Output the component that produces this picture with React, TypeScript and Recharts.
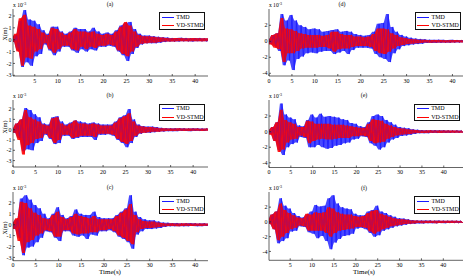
import { ComposedChart, Line, Area, XAxis, YAxis, Legend } from "recharts";

const SERIF = '"Liberation Serif", "Times New Roman", serif';
const BLUE = "#1a1aff";
const RED = "#ff0000";

// peak displacements (x1e-3 m), one every 0.5 s starting at t = 0
const dt = 0.5;

const tmdA = [
  0.1, -0.2, 0.4, -0.9, 1.6, -2.3, 2.5, -1.9, 1.7, -2.2,
  1.6, -1.4, 1.3, -1.2, 0.8, -0.4, 0.5, -0.9, 1.1, -1.3,
  1.1, -1.0, 0.7, -0.6, 0.5, -0.6, 0.7, -0.9, 1.0, -1.1,
  0.9, -0.8, 0.9, -1.0, 0.7, -0.8, 1.0, -0.9, 0.7, -0.6,
  0.5, -0.6, 0.6, -0.5, 0.5, -0.6, 0.8, -1.0, 1.2, -1.3,
  1.4, -1.8, 1.5, -1.2, 0.9, -0.7, 0.5, -0.4, 0.35, -0.3,
  0.35, -0.3, 0.3, -0.3, 0.25, -0.25, 0.2, -0.2, 0.18, -0.15,
  0.15, -0.16, 0.14, -0.15, 0.16, -0.13, 0.15, -0.14, 0.13, -0.15,
  0.14, -0.12, 0.15, -0.13, 0.12, -0.14, 0.13, -0.12, 0.12, -0.11,
];
const vdA = [
  0.1, -0.2, 0.5, -1.0, 1.8, -2.2, 2.1, -1.5, 1.2, -1.6,
  1.1, -1.0, 0.9, -0.8, 0.6, -0.3, 0.4, -0.8, 1.0, -1.1,
  0.9, -0.8, 0.6, -0.5, 0.4, -0.5, 0.6, -0.8, 0.9, -0.9,
  0.7, -0.6, 0.7, -0.8, 0.6, -0.6, 0.7, -0.7, 0.5, -0.5,
  0.4, -0.5, 0.5, -0.4, 0.4, -0.5, 0.7, -0.9, 1.1, -1.2,
  1.5, -1.4, 1.2, -1.0, 0.7, -0.6, 0.4, -0.35, 0.3, -0.3,
  0.3, -0.25, 0.25, -0.25, 0.2, -0.2, 0.18, -0.15, 0.15, -0.15,
  0.13, -0.15, 0.14, -0.12, 0.15, -0.13, 0.12, -0.14, 0.13, -0.12,
  0.14, -0.12, 0.13, -0.14, 0.12, -0.12, 0.13, -0.11, 0.12, -0.1,
];

const tmdB = [
  0.1, -0.3, 0.6, -0.8, 1.0, -2.1, 2.1, -1.9, 1.9, -2.0,
  1.5, -1.3, 1.2, -1.1, 0.6, -0.5, 0.5, -0.9, 1.2, -1.4,
  1.3, -1.3, 0.8, -0.6, 0.5, -0.6, 0.7, -0.9, 0.9, -0.8,
  0.8, -0.7, 0.7, -0.7, 0.6, -0.7, 0.7, -1.0, 0.6, -0.5,
  0.5, -0.5, 0.5, -0.45, 0.5, -0.6, 0.8, -1.0, 1.2, -1.3,
  1.4, -1.7, 2.0, -1.3, 1.0, -0.7, 0.5, -0.4, 0.35, -0.3,
  0.3, -0.3, 0.3, -0.25, 0.25, -0.2, 0.18, -0.18, 0.15, -0.15,
  0.14, -0.15, 0.13, -0.14, 0.15, -0.12, 0.14, -0.13, 0.12, -0.14,
  0.13, -0.12, 0.14, -0.12, 0.12, -0.13, 0.12, -0.11, 0.11, -0.1,
];
const vdB = [
  0.1, -0.3, 0.6, -1.0, 1.0, -2.4, 1.9, -1.5, 1.2, -1.3,
  1.0, -0.9, 0.8, -0.8, 0.5, -0.4, 0.4, -0.8, 1.1, -1.3,
  1.2, -1.0, 0.6, -0.5, 0.4, -0.5, 0.6, -0.8, 0.9, -0.7,
  0.6, -0.6, 0.6, -0.6, 0.5, -0.6, 0.6, -0.7, 0.5, -0.4,
  0.4, -0.4, 0.4, -0.4, 0.4, -0.5, 0.7, -0.9, 1.1, -1.2,
  1.3, -1.4, 1.6, -1.1, 0.8, -0.6, 0.4, -0.35, 0.3, -0.3,
  0.25, -0.25, 0.25, -0.2, 0.2, -0.2, 0.15, -0.15, 0.13, -0.12,
  0.12, -0.13, 0.12, -0.12, 0.13, -0.11, 0.12, -0.12, 0.11, -0.12,
  0.12, -0.1, 0.12, -0.11, 0.1, -0.12, 0.11, -0.1, 0.1, -0.1,
];

const tmdC = [
  0.2, -0.4, 0.5, -1.2, 2.4, -2.8, 2.7, -2.1, 2.3, -2.0,
  1.8, -1.6, 1.5, -1.2, 1.0, -0.6, 0.6, -0.7, 1.0, -1.2,
  1.6, -1.5, 0.9, -0.6, 0.6, -0.6, 0.8, -1.0, 1.4, -1.1,
  1.0, -1.0, 0.9, -1.3, 0.9, -0.9, 1.2, -1.0, 0.7, -0.6,
  0.6, -0.6, 0.6, -0.5, 0.6, -0.7, 0.9, -1.1, 1.2, -1.3,
  1.5, -1.6, 2.7, -2.2, 1.2, -0.9, 0.7, -0.6, 0.5, -0.4,
  0.4, -0.4, 0.4, -0.35, 0.3, -0.3, 0.2, -0.2, 0.18, -0.15,
  0.15, -0.14, 0.16, -0.13, 0.14, -0.15, 0.13, -0.14, 0.15, -0.12,
  0.13, -0.14, 0.12, -0.13, 0.14, -0.12, 0.12, -0.11, 0.12, -0.1,
];
const vdC = [
  0.2, -0.4, 0.6, -1.5, 2.1, -2.6, 2.0, -1.6, 1.5, -1.4,
  1.1, -1.0, 0.9, -0.8, 0.6, -0.5, 0.5, -0.6, 0.9, -1.1,
  1.2, -1.1, 0.7, -0.5, 0.5, -0.5, 0.7, -0.8, 1.0, -0.9,
  0.8, -0.8, 0.7, -0.8, 0.6, -0.7, 0.8, -0.7, 0.5, -0.5,
  0.5, -0.5, 0.5, -0.4, 0.5, -0.6, 0.8, -1.0, 1.1, -1.2,
  1.4, -1.5, 1.9, -1.8, 0.9, -0.7, 0.5, -0.4, 0.35, -0.3,
  0.3, -0.3, 0.3, -0.25, 0.2, -0.2, 0.15, -0.15, 0.12, -0.12,
  0.13, -0.12, 0.12, -0.13, 0.12, -0.11, 0.13, -0.12, 0.11, -0.12,
  0.12, -0.11, 0.1, -0.12, 0.11, -0.1, 0.12, -0.1, 0.1, -0.1,
];

const tmdD = [
  0.2, -0.3, 0.8, -0.6, 1.0, -1.2, 3.4, -3.0, 2.6, -2.4,
  3.3, -3.6, 2.6, -2.2, 2.0, -1.9, 1.8, -1.5, 1.5, -1.4,
  1.6, -1.5, 1.5, -1.3, 1.2, -1.2, 1.3, -1.2, 1.4, -1.6,
  1.5, -1.4, 1.2, -1.2, 1.3, -1.6, 1.2, -1.1, 0.9, -0.8,
  0.8, -0.8, 0.7, -0.8, 0.8, -0.9, 1.2, -1.6, 2.2, -2.0,
  2.3, -2.2, 3.4, -2.6, 1.8, -1.5, 1.2, -1.0, 0.8, -0.6,
  0.6, -0.5, 0.45, -0.4, 0.35, -0.35, 0.3, -0.3, 0.25, -0.2,
  0.2, -0.2, 0.18, -0.2, 0.2, -0.17, 0.18, -0.18, 0.16, -0.17,
  0.18, -0.16, 0.17, -0.15, 0.16, -0.16, 0.15, -0.14, 0.14, -0.13,
];
const vdD = [
  0.2, -0.4, 0.8, -0.8, 1.0, -1.0, 2.9, -2.6, 1.6, -1.5,
  1.5, -1.5, 1.3, -1.2, 1.0, -0.9, 0.9, -0.8, 0.8, -0.8,
  0.8, -0.8, 0.8, -0.7, 0.7, -0.7, 0.8, -0.9, 1.2, -1.3,
  1.2, -1.0, 0.9, -0.9, 0.8, -0.9, 0.8, -0.7, 0.6, -0.6,
  0.6, -0.6, 0.5, -0.6, 0.6, -0.7, 0.9, -1.2, 1.6, -1.5,
  1.6, -1.6, 1.5, -1.3, 1.0, -0.9, 0.8, -0.6, 0.5, -0.45,
  0.4, -0.35, 0.3, -0.3, 0.25, -0.25, 0.2, -0.2, 0.18, -0.15,
  0.15, -0.17, 0.16, -0.15, 0.17, -0.14, 0.15, -0.16, 0.14, -0.15,
  0.16, -0.14, 0.15, -0.13, 0.14, -0.15, 0.13, -0.12, 0.13, -0.12,
];

const tmdE = [
  0.2, -0.3, 0.6, -1.2, 1.2, -2.4, 3.6, -3.0, 2.2, -2.0,
  1.8, -1.6, 1.6, -1.4, 0.8, -0.7, 0.7, -0.8, 1.5, -2.0,
  2.2, -2.0, 1.8, -1.7, 2.3, -2.0, 1.9, -2.2, 2.0, -2.1,
  1.9, -1.8, 1.8, -1.7, 1.6, -1.5, 1.5, -1.4, 1.1, -1.0,
  1.0, -0.9, 0.7, -0.6, 0.6, -0.7, 1.2, -1.5, 2.0, -1.8,
  2.2, -2.3, 2.0, -2.0, 1.5, -1.4, 1.2, -1.0, 0.9, -0.8,
  0.6, -0.55, 0.5, -0.5, 0.45, -0.4, 0.3, -0.3, 0.25, -0.2,
  0.2, -0.2, 0.18, -0.2, 0.19, -0.17, 0.18, -0.18, 0.17, -0.16,
  0.18, -0.16, 0.16, -0.17, 0.15, -0.15, 0.16, -0.14, 0.14, -0.14,
];
const vdE = [
  0.2, -0.4, 0.6, -1.2, 1.2, -2.6, 2.8, -2.3, 1.5, -1.4,
  1.2, -1.0, 1.0, -0.9, 0.6, -0.5, 0.6, -0.7, 1.4, -1.5,
  1.3, -1.2, 1.0, -1.0, 1.0, -0.9, 1.0, -1.0, 1.0, -1.0,
  0.9, -0.9, 0.9, -0.8, 0.9, -0.8, 0.8, -0.8, 0.7, -0.6,
  0.6, -0.6, 0.5, -0.5, 0.5, -0.6, 1.0, -1.2, 1.6, -1.5,
  1.5, -1.4, 1.4, -1.3, 1.0, -0.9, 0.8, -0.7, 0.6, -0.5,
  0.45, -0.4, 0.4, -0.35, 0.3, -0.3, 0.25, -0.2, 0.2, -0.18,
  0.16, -0.17, 0.15, -0.16, 0.17, -0.15, 0.16, -0.15, 0.15, -0.16,
  0.15, -0.14, 0.16, -0.15, 0.14, -0.14, 0.15, -0.13, 0.13, -0.13,
];

const tmdF = [
  0.2, -0.3, 1.0, -1.0, 1.4, -2.9, 3.2, -2.6, 2.2, -2.2,
  1.8, -1.3, 1.2, -1.2, 0.8, -0.6, 0.6, -0.7, 1.0, -1.4,
  1.4, -1.6, 2.3, -2.2, 2.1, -1.9, 2.2, -2.6, 3.2, -3.7,
  3.6, -2.8, 2.5, -2.3, 2.0, -1.9, 1.8, -1.8, 1.7, -1.6,
  1.1, -0.9, 0.9, -0.8, 0.9, -1.0, 1.4, -1.5, 1.6, -2.0,
  2.2, -1.8, 1.4, -1.2, 1.2, -1.0, 0.9, -0.8, 0.7, -0.6,
  0.5, -0.5, 0.45, -0.4, 0.35, -0.3, 0.25, -0.25, 0.2, -0.2,
  0.18, -0.2, 0.19, -0.17, 0.2, -0.18, 0.17, -0.19, 0.18, -0.16,
  0.17, -0.18, 0.16, -0.16, 0.17, -0.15, 0.15, -0.15, 0.14, -0.14,
];
const vdF = [
  0.2, -0.3, 1.0, -1.0, 1.4, -2.5, 2.5, -2.0, 1.6, -1.5,
  1.2, -1.0, 0.9, -0.8, 0.6, -0.5, 0.5, -0.6, 1.1, -1.2,
  1.0, -1.2, 1.3, -1.2, 1.2, -1.2, 1.3, -1.5, 2.0, -2.0,
  1.8, -1.5, 1.3, -1.2, 1.1, -1.1, 1.0, -1.0, 1.0, -0.9,
  0.8, -0.7, 0.7, -0.7, 0.8, -0.8, 1.2, -1.3, 1.5, -1.6,
  1.6, -1.3, 1.1, -1.0, 0.9, -0.8, 0.7, -0.6, 0.5, -0.5,
  0.4, -0.4, 0.35, -0.3, 0.3, -0.25, 0.2, -0.2, 0.18, -0.15,
  0.16, -0.17, 0.15, -0.16, 0.17, -0.15, 0.16, -0.17, 0.15, -0.16,
  0.15, -0.15, 0.16, -0.14, 0.15, -0.14, 0.14, -0.13, 0.13, -0.13,
];

const timeTicks = [0, 5, 10, 15, 20, 25, 30, 35, 40];
const ticksNoZero = [5, 10, 15, 20, 25, 30, 35, 40];
const smallTicks = [-3, -2, -1, 0, 1, 2];
const bigTicks = [-4, -2, 0, 2];

// band between each peak and the next one, so the dense response reads as a filled trace
const band = (v: number[], i: number) => {
  const next = v[Math.min(i + 1, v.length - 1)];
  return [Math.min(v[i], next), Math.max(v[i], next)];
};

const toRows = (tmd: number[], vd: number[]) =>
  tmd.map((v, i) => ({
    t: i * dt,
    tmd: v,
    vd: vd[i],
    tmdBand: band(tmd, i),
    vdBand: band(vd, i),
  }));

type PanelDef = {
  id: string;
  tmd: number[];
  vd: number[];
  left: number;
  top: number;
  w: number;
  h: number;
  xDomain: [number, number];
  yDomain: [number, number];
  xTicks: number[];
  yTicks: number[];
  titleX: number;
  titleY: number;
};

const LEFT_X = 12.7;
const RIGHT_X = 268.6;

const panels: PanelDef[] = [
  { id: "a", tmd: tmdA, vd: vdA, left: LEFT_X, top: 9, w: 195, h: 67, xDomain: [0.24, 42.8], yDomain: [-3.06, 2.59], xTicks: ticksNoZero, yTicks: smallTicks, titleX: 110, titleY: 4 },
  { id: "b", tmd: tmdB, vd: vdB, left: LEFT_X, top: 100, w: 195, h: 67, xDomain: [0, 43.3], yDomain: [-3.62, 2.88], xTicks: timeTicks, yTicks: smallTicks, titleX: 110, titleY: 95.3 },
  { id: "c", tmd: tmdC, vd: vdC, left: LEFT_X, top: 192, w: 195, h: 68.7, xDomain: [0, 42.8], yDomain: [-3.3, 3.0], xTicks: timeTicks, yTicks: smallTicks, titleX: 110, titleY: 187.3 },
  { id: "d", tmd: tmdD, vd: vdD, left: RIGHT_X, top: 9, w: 194, h: 67, xDomain: [0, 42.3], yDomain: [-4.34, 4.04], xTicks: timeTicks, yTicks: bigTicks, titleX: 342, titleY: 4 },
  { id: "e", tmd: tmdE, vd: vdE, left: RIGHT_X, top: 100, w: 194, h: 67.5, xDomain: [0, 44.4], yDomain: [-4.6, 4.06], xTicks: timeTicks, yTicks: bigTicks, titleX: 364, titleY: 95.3 },
  { id: "f", tmd: tmdF, vd: vdF, left: RIGHT_X, top: 192, w: 194, h: 68.3, xDomain: [0.15, 44.5], yDomain: [-5.2, 4.05], xTicks: ticksNoZero, yTicks: bigTicks, titleX: 364, titleY: 188 },
];

const legendSpots: Record<string, [number, number]> = {
  a: [159.3, 12.3],
  b: [159.3, 103.5],
  c: [159.3, 196.3],
  d: [414.6, 12.3],
  e: [414.2, 103.7],
  f: [414.4, 196.3],
};

const PAD_L = 14;
const PAD_R = 2;
const PAD_B = 14;

const tickStyle = { fontSize: 6, fill: "#000", fontFamily: SERIF };

function LegendBox({ payload }: any) {
  const items = ((payload || []) as { value: string; color: string; type?: string }[]).filter(
    (it) => it.type !== "none"
  );
  return (
    <div
      style={{
        width: 46,
        height: 17.5,
        boxSizing: "border-box",
        border: "1px solid #111",
        background: "#fff",
        position: "relative",
        fontFamily: SERIF,
        fontSize: 6,
        color: "#000",
      }}
    >
      {items.map((it, i) => (
        <div key={it.value} style={{ position: "absolute", left: 0, top: 0.5 + i * 8.6, height: 7, width: 44 }}>
          <div style={{ position: "absolute", left: 1.6, top: 3, width: 12, height: 1, background: it.color }} />
          <div style={{ position: "absolute", left: 16, top: 0, lineHeight: "7px", whiteSpace: "nowrap" }}>{it.value}</div>
        </div>
      ))}
    </div>
  );
}

function Panel({ p }: { p: PanelDef }) {
  const width = PAD_L + p.w + PAD_R;
  const height = p.h + PAD_B;
  const originX = p.left - PAD_L;
  const [lx, ly] = legendSpots[p.id];
  return (
    <div style={{ position: "absolute", left: originX, top: p.top }}>
      <ComposedChart
        width={width}
        height={height}
        data={toRows(p.tmd, p.vd)}
        margin={{ top: 0, right: PAD_R, bottom: 0, left: 0 }}
      >
        <XAxis
          type="number"
          dataKey="t"
          domain={p.xDomain}
          ticks={p.xTicks}
          interval={0}
          allowDataOverflow
          height={PAD_B}
          tickSize={-2}
          tickMargin={4.5}
          tick={tickStyle}
          axisLine={{ stroke: "#222", strokeWidth: 0.7 }}
          tickLine={{ stroke: "#222", strokeWidth: 0.7 }}
        />
        <YAxis
          type="number"
          domain={p.yDomain}
          ticks={p.yTicks}
          interval={0}
          allowDataOverflow
          width={PAD_L}
          tickSize={-2}
          tickMargin={3.5}
          tick={tickStyle}
          axisLine={{ stroke: "#222", strokeWidth: 0.7 }}
          tickLine={{ stroke: "#222", strokeWidth: 0.7 }}
        />
        <Area type="linear" dataKey="tmdBand" stroke="none" fill={BLUE} fillOpacity={0.8} legendType="none" isAnimationActive={false} />
        <Line type="linear" dataKey="tmd" name="TMD" stroke={BLUE} strokeWidth={0.8} dot={false} isAnimationActive={false} />
        <Area type="linear" dataKey="vdBand" stroke="none" fill={RED} fillOpacity={0.88} legendType="none" isAnimationActive={false} />
        <Line type="linear" dataKey="vd" name="VD-STMD" stroke={RED} strokeWidth={0.8} dot={false} isAnimationActive={false} />
        <Legend
          layout="horizontal"
          verticalAlign="middle"
          align="center"
          content={<LegendBox />}
          wrapperStyle={{ left: lx - originX, top: ly - p.top, width: 46, height: 17.5 }}
        />
      </ComposedChart>
    </div>
  );
}

export default function App() {
  return (
    <div style={{ position: "absolute", left: 0, top: 0, width: 467, height: 277, background: "#fff", overflow: "hidden" }}>
      {panels.map((p) => (
        <Panel key={p.id} p={p} />
      ))}
      <svg
        width={467}
        height={277}
        style={{ position: "absolute", left: 0, top: 0, pointerEvents: "none" }}
        fontFamily={SERIF}
        fill="#000"
      >
        {panels.map((p) => (
          <g key={p.id}>
            <text x={p.titleX} y={p.titleY} fontSize={6} textAnchor="middle" dominantBaseline="central">
              ({p.id})
            </text>
            <text x={p.left + 0.3} y={p.top - 1.8} fontSize={5.6}>
              x 10
              <tspan dy={-2.6} fontSize={4}>
                -3
              </tspan>
            </text>
          </g>
        ))}
        {[34, 127, 228].map((cy) => (
          <text key={cy} transform={`translate(4.6 ${cy}) rotate(-90)`} fontSize={6} textAnchor="middle" dominantBaseline="central">
            X(m)
          </text>
        ))}
        <text x={110} y={272} fontSize={7} textAnchor="middle" dominantBaseline="central">
          Time(s)
        </text>
        <text x={364} y={272} fontSize={7} textAnchor="middle" dominantBaseline="central">
          Time(s)
        </text>
      </svg>
    </div>
  );
}
